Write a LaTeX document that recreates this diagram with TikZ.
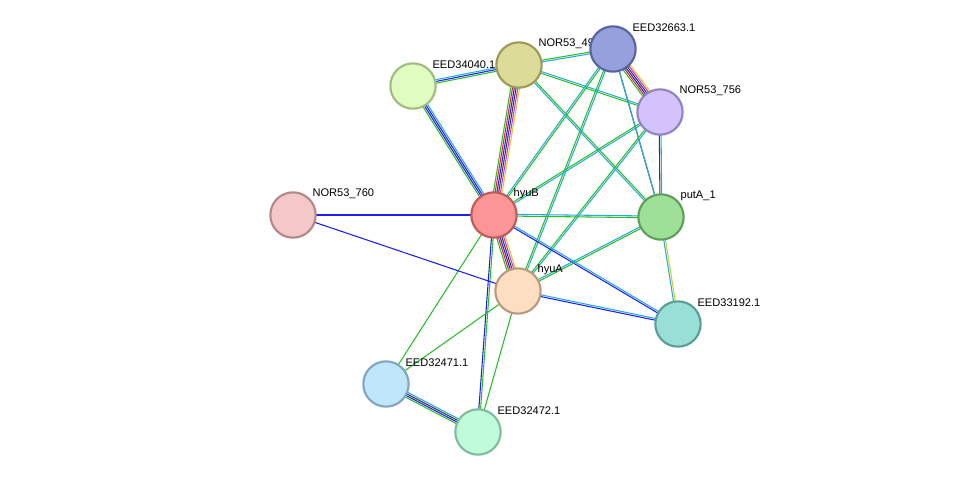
\documentclass[tikz,border=0pt]{standalone}
\usepackage{fontspec}
\setmainfont{Liberation Sans}
\usetikzlibrary{calc}
\definecolor{eg}{RGB}{40,190,40}
\definecolor{ec}{RGB}{40,170,220}
\definecolor{eb}{RGB}{30,30,240}
\definecolor{er}{RGB}{240,30,30}
\definecolor{em}{RGB}{220,40,220}
\definecolor{ek}{RGB}{60,60,60}
\definecolor{ey}{RGB}{200,210,40}
\definecolor{f49}{HTML}{DCDB98}\definecolor{d49}{HTML}{9A9A5A}
\definecolor{f663}{HTML}{95A0DD}\definecolor{d663}{HTML}{5863A0}
\definecolor{f040}{HTML}{E0FCC0}\definecolor{d040}{HTML}{A0BC80}
\definecolor{f756}{HTML}{D4C2FC}\definecolor{d756}{HTML}{9382C0}
\definecolor{f760}{HTML}{F4C8C8}\definecolor{d760}{HTML}{B48888}
\definecolor{fhB}{HTML}{FC9696}\definecolor{dhB}{HTML}{C05A5A}
\definecolor{fpA}{HTML}{9FE098}\definecolor{dpA}{HTML}{5EA05A}
\definecolor{fhA}{HTML}{FDDEC0}\definecolor{dhA}{HTML}{B89A80}
\definecolor{f192}{HTML}{98DFD6}\definecolor{d192}{HTML}{5A9F96}
\definecolor{f471}{HTML}{C0E6FC}\definecolor{d471}{HTML}{80A6C0}
\definecolor{f472}{HTML}{C0FCDC}\definecolor{d472}{HTML}{80BC9C}
\newcommand{\medge}[3]{%
  \foreach \c [count=\i] in {#3} {\xdef\nmax{\i}}%
  \foreach \c [count=\i] in {#3} {%
    \pgfmathsetmacro{\off}{(\i-(\nmax+1)/2)*1.3}%
    \draw[\c,line width=0.8pt] ($(#1)!\off pt!90:(#2)$) -- ($(#2)!\off pt!-90:(#1)$);
  }}
\tikzset{
  prot/.style={circle,minimum size=34pt,inner sep=0pt,line width=1.6pt,fill=f#1,draw=d#1},
  lab/.style={font=\fontsize{8.3pt}{9pt}\selectfont,anchor=west,inner sep=1pt}
}
\begin{document}
\begin{tikzpicture}[x=0.75pt,y=-0.75pt]
\useasboundingbox (0,0) rectangle (975,478);
\coordinate (n49) at (519,65);
\coordinate (n663) at (613,49);
\coordinate (n040) at (413,86);
\coordinate (n756) at (660,112);
\coordinate (n760) at (293,215);
\coordinate (hB) at (494,215);
\coordinate (pA) at (661,217);
\coordinate (hA) at (518,291);
\coordinate (n192) at (678,324);
\coordinate (n471) at (386,384);
\coordinate (n472) at (478,432);
\medge{n040}{n49}{eg,eb,ec}
\medge{n040}{hB}{eg,eb,eb,ec}
\medge{n49}{hB}{eg,er,eb,ek,em,ey}
\medge{n49}{n663}{ec,eg}
\medge{n49}{n756}{eg,ec}
\medge{n49}{pA}{ec,eg}
\medge{n663}{n756}{eg,er,eb,ek,em,ey}
\medge{n663}{pA}{ek}
\medge{n663}{pA}{ec}
\medge{n663}{hB}{ec,eg}
\medge{n663}{hA}{eg,ec}
\medge{n756}{pA}{ek,ec}
\medge{n756}{hB}{eg,ec}
\medge{n756}{hA}{eg,ec}
\medge{hB}{pA}{eg,ec}
\medge{hB}{hA}{eg,er,eb,ek,em,ey}
\medge{hB}{n760}{eb}
\medge{hB}{n192}{eb,ec}
\medge{hB}{n471}{eg}
\medge{hB}{n472}{eb,eg}
\medge{n760}{hA}{eb}
\medge{hA}{pA}{eg,ec}
\medge{hA}{n192}{eb,ec}
\medge{hA}{n471}{eg}
\medge{hA}{n472}{eg}
\medge{pA}{n192}{ec,ey}
\medge{n471}{n472}{eg,eb,ek,ec}
\node[lab] (l040) at (431,65) {EED34040.1};
\node[lab] (l49) at (537,44) {NOR53\_49};
\node[lab] (l663) at (631,28) {EED32663.1};
\node[lab] (l756) at (678,91) {NOR53\_756};
\node[lab] (l760) at (311,194) {NOR53\_760};
\node[lab] (lhB) at (512,194) {hyuB};
\node[lab] (lpA) at (679,196) {putA\_1};
\node[lab] (lhA) at (536,270) {hyuA};
\node[lab] (l192) at (696,303) {EED33192.1};
\node[lab] (l471) at (404,363) {EED32471.1};
\node[lab] (l472) at (496,411) {EED32472.1};
\node[prot=49] (N49) at (n49) {};
\node[prot=663] (N663) at (n663) {};
\node[prot=040] (N040) at (n040) {};
\node[prot=756] (N756) at (n756) {};
\node[prot=760] (N760) at (n760) {};
\node[prot=hB] (HB) at (hB) {};
\node[prot=pA] (PA) at (pA) {};
\node[prot=hA] (HA) at (hA) {};
\node[prot=192] (N192) at (n192) {};
\node[prot=471] (N471) at (n471) {};
\node[prot=472] (N472) at (n472) {};
\end{tikzpicture}
\end{document}
